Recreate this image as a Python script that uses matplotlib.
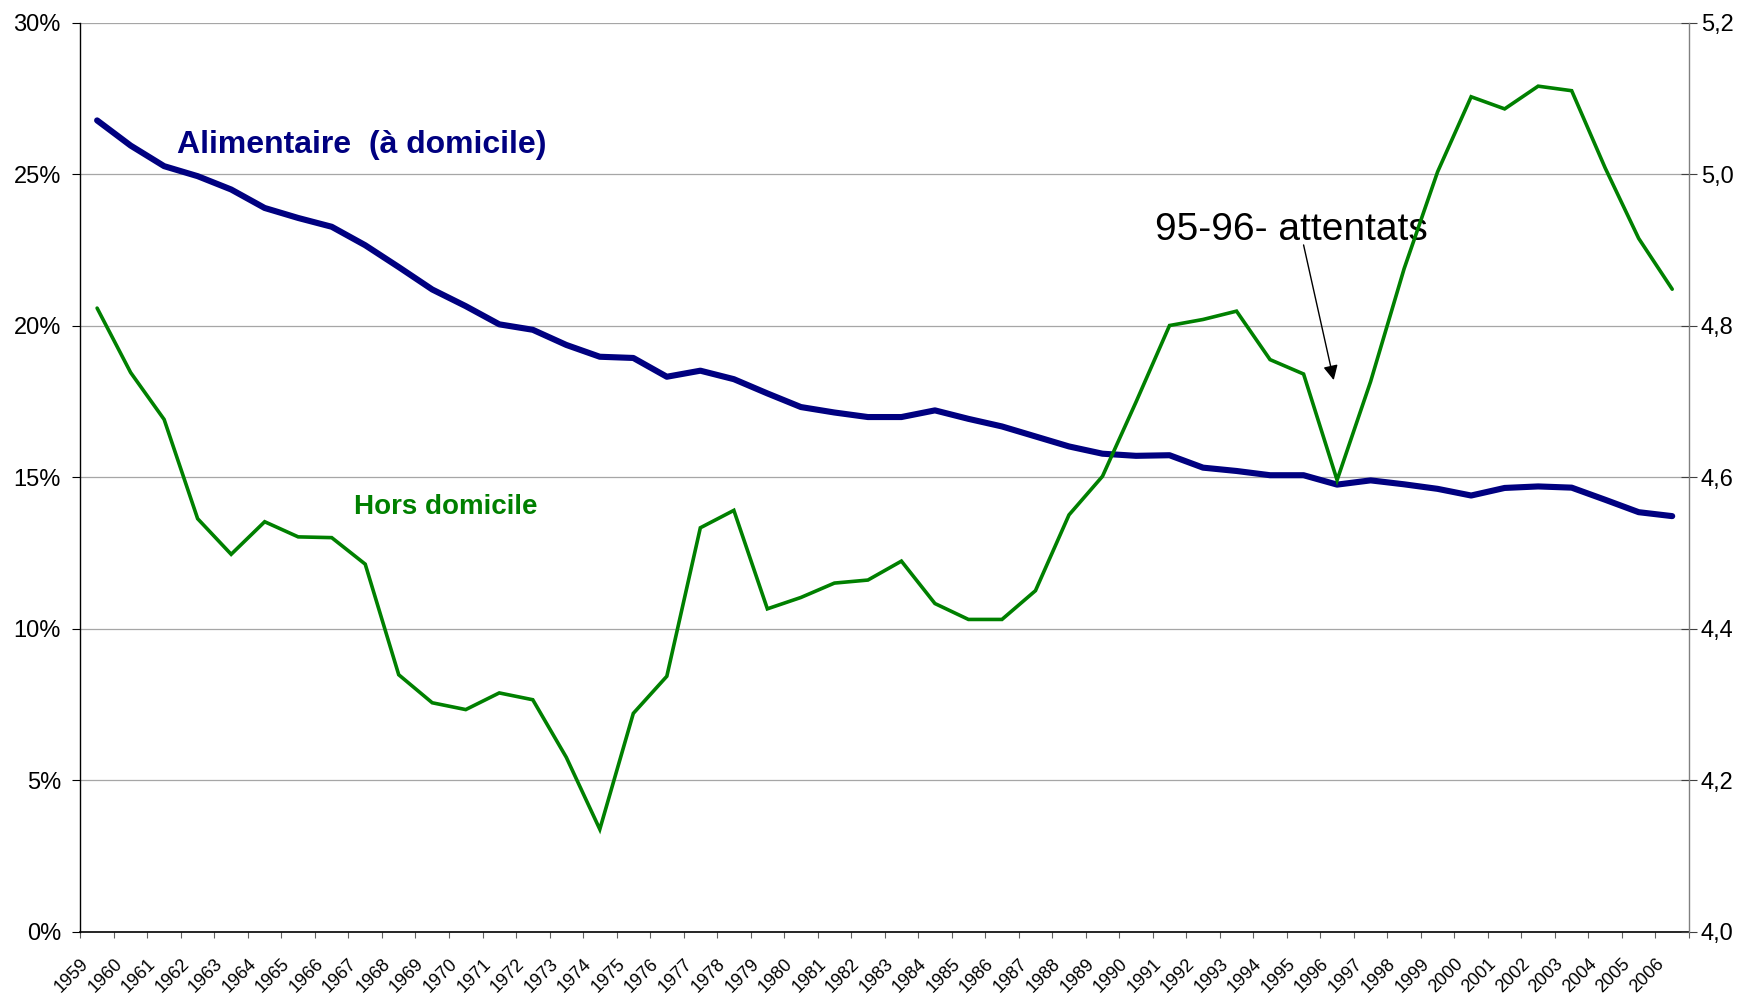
import matplotlib
matplotlib.use("Agg")
import matplotlib.pyplot as plt
from matplotlib.transforms import ScaledTranslation
from matplotlib import font_manager

# ---------------- data ----------------
years = ["1959", "1960", "1961", "1962", "1963", "1964", "1965", "1966", "1967", "1968",
         "1969", "1970", "1971", "1972", "1973", "1974", "1975", "1976", "1977", "1978",
         "1979", "1980", "1981", "1982", "1983", "1984", "1985", "1986", "1987", "1988",
         "1989", "1990", "1991", "1992", "1993", "1994", "1995", "1996", "1997", "1998",
         "1999", "2000", "2001", "2002", "2003", "2004", "2005", "2006"]

# Alimentaire (à domicile), left axis (%)
alimentaire = [26.77, 25.94, 25.26, 24.93, 24.49, 23.88, 23.55, 23.26, 22.65, 21.93,
               21.19, 20.64, 20.04, 19.86, 19.36, 18.97, 18.93, 18.31, 18.51, 18.23,
               17.76, 17.31, 17.13, 16.98, 16.98, 17.20, 16.92, 16.67, 16.34, 16.01,
               15.77, 15.70, 15.72, 15.31, 15.20, 15.06, 15.06, 14.75, 14.89, 14.76,
               14.61, 14.39, 14.64, 14.69, 14.65, 14.25, 13.84, 13.71]

# Hors domicile, right axis
hors_domicile = [4.823, 4.738, 4.676, 4.545, 4.498, 4.541, 4.521, 4.520, 4.485, 4.339,
                 4.302, 4.293, 4.315, 4.306, 4.230, 4.135, 4.288, 4.337, 4.533, 4.556,
                 4.426, 4.441, 4.460, 4.464, 4.489, 4.433, 4.412, 4.412, 4.450, 4.550,
                 4.601, 4.699, 4.800, 4.808, 4.819, 4.755, 4.736, 4.596, 4.726, 4.875,
                 5.003, 5.102, 5.086, 5.116, 5.110, 5.008, 4.915, 4.848]

left_ticks = [0, 5, 10, 15, 20, 25, 30]
left_labels = ["0%", "5%", "10%", "15%", "20%", "25%", "30%"]
right_ticks = [4.0, 4.2, 4.4, 4.6, 4.8, 5.0, 5.2]
right_labels = ["4,0", "4,2", "4,4", "4,6", "4,8", "5,0", "5,2"]

label_alim = "Alimentaire  (à domicile)"
label_hors = "Hors domicile"
label_note = "95-96- attentats"

# ---------------- style ----------------
plt.rcParams['font.family'] = ['Liberation Sans', 'DejaVu Sans']
navy = "#000080"
green = "#008000"
grid_gray = "#A6A6A6"

names = {f.name for f in font_manager.fontManager.ttflist}
narrow_family = ['Liberation Sans Narrow', 'Liberation Sans', 'DejaVu Sans'] \
    if 'Liberation Sans Narrow' in names else ['Liberation Sans', 'DejaVu Sans']
narrow_size = 32 if 'Liberation Sans Narrow' in names else 28

fig = plt.figure(figsize=(17.43, 9.93), dpi=100)
ax = fig.add_axes([0.0461, 0.0619, 0.969 - 0.0461, 0.9773 - 0.0619])
ax2 = ax.twinx()

x = list(range(len(years)))

ax.plot(x, alimentaire, color=navy, lw=4.4, solid_capstyle='round',
        solid_joinstyle='round', zorder=3)
ax2.plot(x, hors_domicile, color=green, lw=2.6, solid_capstyle='round',
         solid_joinstyle='miter', zorder=3)

ax.set_xlim(-0.5, len(years) - 0.5)
ax.set_ylim(0, 30)
ax2.set_ylim(4.0, 5.2)

# grid
for v in left_ticks[1:]:
    ax.axhline(v, color=grid_gray, lw=0.9, zorder=1)

# y ticks
ax.set_yticks(left_ticks)
ax.set_yticklabels(left_labels, fontsize=17)
ax.tick_params(axis='y', direction='out', length=6, width=0.8, pad=8, color='black')
ax2.set_yticks(right_ticks)
ax2.set_yticklabels(right_labels, fontsize=17)
ax2.tick_params(axis='y', direction='inout', length=11, width=0.8, pad=3,
                color='#404040')

# x ticks: labels at category centres, tick marks at boundaries
ax.set_xticks(x)
ax.set_xticklabels(years, rotation=45, ha='right', va='top', fontsize=13)
ax.set_xticks([i - 0.5 for i in range(len(years) + 1)], minor=True)
ax.tick_params(axis='x', which='major', length=0, pad=17)
ax.tick_params(axis='x', which='minor', length=4.5, width=0.8, color='#606060')
off = ScaledTranslation(-5 / 100, 0, fig.dpi_scale_trans)
for lab in ax.get_xticklabels():
    lab.set_transform(lab.get_transform() + off)

# spines
ax.spines['top'].set_visible(False)
ax.spines['right'].set_visible(False)
ax.spines['left'].set_color('black')
ax.spines['left'].set_linewidth(1.0)
ax.spines['bottom'].set_color('black')
ax.spines['bottom'].set_linewidth(1.2)
for s in ['top', 'left', 'bottom']:
    ax2.spines[s].set_visible(False)
ax2.spines['right'].set_color('#808080')
ax2.spines['right'].set_linewidth(1.0)

# annotations
ax.text(2.37, 25.69, label_alim, color=navy, fontsize=23, fontweight='bold',
        ha='left', va='baseline', zorder=2)
ax.text(7.67, 13.77, label_hors, color=green, fontsize=20, fontweight='bold',
        ha='left', va='baseline', zorder=2)
ax.text(35.65, 22.82, label_note, color='black', fontsize=narrow_size,
        family=narrow_family, ha='center', va='baseline', zorder=2)
ax.annotate("", xy=(36.9, 18.2), xytext=(36.0, 22.66),
            arrowprops=dict(arrowstyle='-|>', color='black', lw=1.0,
                            mutation_scale=22, shrinkA=0, shrinkB=0),
            zorder=2)

fig.savefig("out.png", dpi=100)
